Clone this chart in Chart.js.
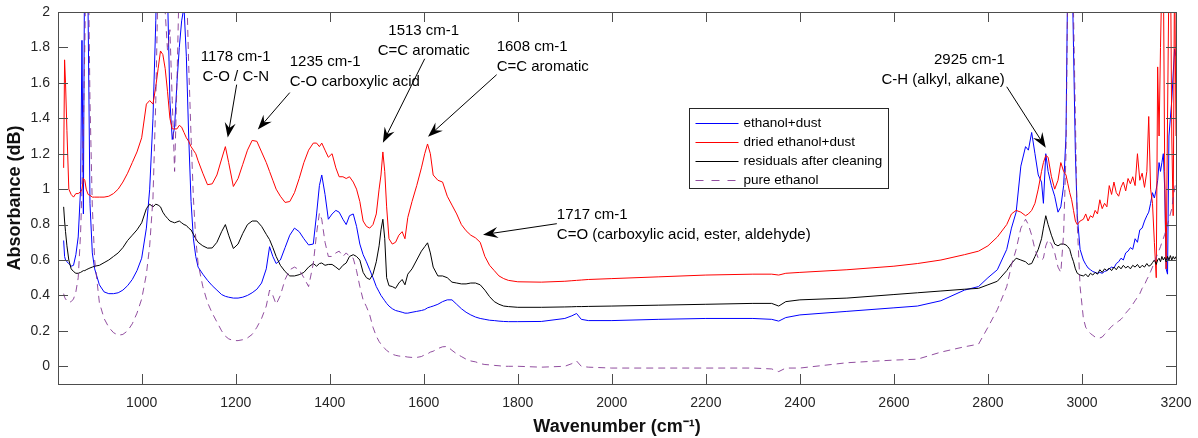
<!DOCTYPE html>
<html><head><meta charset="utf-8">
<script src="https://cdn.jsdelivr.net/npm/chart.js@4.4.0/dist/chart.umd.min.js"></script>
<style>html,body{margin:0;padding:0;background:#fff}#wrap{width:1198px;height:438px;position:relative}</style>
</head><body><div id="wrap"><canvas id="c" width="1198" height="438"></canvas></div>
<script>
const wavenumbers = [
 834,836,838,841,845,850,855,860,865,870,873,876,879,882,886,890,895,900,
 910,920,930,940,950,960,970,980,990,1000,1010,1017,1024,1030,
 1035,1040,1045,1050,1055,1060,1065,1070,1075,1080,1085,1090,1095,1100,1105,1110,1115,1120,
 1130,1140,1150,1160,1170,1178,1185,1195,1205,1215,1225,1235,1245,1255,1265,1272,1279,1286,1295,1305,1315,1325,1335,1345,1355,1365,
 1372,1378,1383,1390,1397,1405,1413,1420,1428,1435,1442,1450,1457,1464,1471,1478,1485,1492,1499,
 1505,1509,1513,1517,1521,1526,1533,1540,1547,1554,1560,1566,1575,1585,1595,1602,1608,1614,1620,
 1630,1640,1650,1660,1670,1680,1690,1700,1710,1720,1730,1740,1750,1760,1770,1780,1800,
 1850,1900,1915,1925,1935,1950,2000,2100,2200,2300,2340,2355,2370,2400,2500,2600,2650,2700,2750,2780,2800,
 2820,2840,2850,2860,2870,2880,2886,2893,2900,2907,2914,2918,2923,2928,2935,2942,2949,2955,2961,2966,2970,2974,2978,2982,2986,2990,2996,
 3003,3008,3013,3018,3023,3028,3033,3038,3043,3048,3053,3058,3063,3068,3073,3078,3083,3088,3093,3098,
 3103,3108,3113,3118,3123,3128,3133,3138,3142,3146,3150,3154,3158,3161,3164,3167,3170,3173,3176,3179,
 3182,3185,3188,3191,3194,3197,3200
];
const ethanolDust = [
 0.71,0.62,0.60,0.59,0.58,0.565,0.57,0.63,0.73,1.0,1.84,0.86,2.6,2.9,2.0,0.92,0.64,0.55,
 0.46,0.42,0.41,0.41,0.415,0.43,0.455,0.49,0.54,0.61,0.78,1.0,1.4,1.95,
 2.6,2.8,2.7,2.5,2.1,1.5,1.28,1.35,1.6,1.8,1.95,2.03,1.75,1.3,0.93,0.72,0.62,0.56,
 0.52,0.485,0.455,0.43,0.405,0.395,0.39,0.385,0.385,0.39,0.4,0.415,0.435,0.47,0.55,0.675,0.62,0.58,0.6,0.67,0.74,0.78,0.76,0.72,0.685,0.69,
 0.86,1.02,1.08,0.97,0.83,0.86,0.88,0.87,0.83,0.80,0.85,0.86,0.79,0.69,0.63,0.59,0.545,0.5,0.45,
 0.42,0.40,0.385,0.37,0.355,0.34,0.325,0.315,0.31,0.305,0.30,0.30,0.305,0.31,0.315,0.32,0.33,0.335,0.34,
 0.35,0.365,0.375,0.375,0.35,0.325,0.305,0.29,0.278,0.27,0.265,0.26,0.258,0.255,0.253,0.252,0.252,
 0.253,0.27,0.285,0.298,0.265,0.258,0.258,0.265,0.27,0.27,0.265,0.255,0.275,0.29,0.31,0.33,0.34,0.37,0.43,0.45,0.5,
 0.545,0.66,0.78,0.87,1.13,1.24,1.22,1.32,1.2,1.08,1.04,0.92,1.2,1.1,1.02,0.96,0.87,0.9,1.02,1.3,2.3,2.6,2.4,1.8,1.2,0.85,0.66,
 0.6,0.575,0.555,0.545,0.535,0.53,0.525,0.53,0.525,0.535,0.54,0.55,0.56,0.555,0.58,0.59,0.61,0.6,0.64,0.65,
 0.67,0.66,0.72,0.7,0.77,0.78,0.82,0.85,0.87,0.92,0.98,0.95,1.0,1.05,1.15,1.1,1.15,1.2,1.0,0.55,
 0.52,1.3,1.4,1.5,1.65,1.79,1.75
];
const driedEthanolDust = [
 1.12,1.73,1.6,1.33,1.0,0.97,0.955,0.975,0.975,0.985,1.0,1.06,1.05,1.0,0.97,0.965,0.955,0.955,
 0.955,0.955,0.96,0.975,1.0,1.04,1.09,1.15,1.21,1.29,1.48,1.5,1.48,1.58,
 1.68,1.78,1.76,1.68,1.55,1.4,1.34,1.34,1.34,1.36,1.35,1.32,1.29,1.27,1.24,1.22,1.2,1.16,
 1.09,1.025,1.03,1.08,1.17,1.24,1.15,1.015,1.06,1.14,1.22,1.275,1.27,1.21,1.15,1.1,1.05,1.0,0.96,0.925,0.93,0.98,1.06,1.15,1.22,1.26,
 1.26,1.24,1.26,1.22,1.18,1.2,1.12,1.07,1.07,1.06,1.07,1.04,1.0,0.93,0.82,0.79,0.78,0.8,0.86,
 1.0,1.08,1.21,1.1,0.9,0.72,0.69,0.7,0.74,0.76,0.72,0.84,0.93,1.02,1.12,1.2,1.255,1.2,1.08,
 1.05,1.04,0.96,0.91,0.86,0.8,0.765,0.74,0.725,0.7,0.62,0.57,0.54,0.51,0.495,0.485,0.477,
 0.475,0.48,0.483,0.485,0.487,0.49,0.495,0.505,0.515,0.52,0.52,0.515,0.525,0.53,0.545,0.565,0.58,0.6,0.63,0.65,0.68,
 0.73,0.8,0.86,0.88,0.87,0.85,0.86,0.88,0.92,1.0,1.1,1.15,1.19,1.18,1.07,1.0,1.05,1.15,1.1,1.08,1.03,0.98,0.94,0.88,0.82,0.8,0.82,
 0.83,0.86,0.82,0.85,0.84,0.88,0.86,0.94,0.89,0.92,0.9,1.02,0.97,1.04,0.98,0.96,1.01,1.04,0.99,1.06,
 1.03,1.07,1.02,1.2,1.05,1.09,1.01,1.1,1.41,1.0,0.92,0.7,0.5,1.69,1.3,1.8,2.2,2.3,1.1,0.55,
 1.4,2.2,2.4,1.3,0.85,2.3,1.3
];
const residualsAfterCleaning = [
 0.9,0.82,0.76,0.68,0.6,0.55,0.535,0.525,0.525,0.53,0.535,0.54,0.54,0.545,0.55,0.555,0.56,0.565,
 0.57,0.585,0.6,0.62,0.64,0.67,0.71,0.74,0.77,0.81,0.89,0.915,0.9,0.915,
 0.91,0.9,0.87,0.85,0.835,0.82,0.815,0.81,0.815,0.82,0.81,0.8,0.795,0.78,0.77,0.745,0.72,0.7,
 0.68,0.667,0.668,0.7,0.76,0.8,0.74,0.665,0.69,0.75,0.8,0.82,0.82,0.79,0.745,0.715,0.67,0.62,0.57,0.535,0.51,0.51,0.517,0.53,0.56,0.58,
 0.565,0.58,0.583,0.57,0.575,0.575,0.56,0.545,0.57,0.583,0.62,0.63,0.62,0.6,0.53,0.5,0.49,0.52,0.59,
 0.68,0.77,0.83,0.72,0.5,0.455,0.45,0.44,0.47,0.49,0.46,0.52,0.55,0.6,0.65,0.675,0.697,0.64,0.56,
 0.51,0.51,0.5,0.475,0.47,0.465,0.465,0.47,0.47,0.46,0.43,0.393,0.365,0.35,0.34,0.337,0.333,
 0.333,0.335,0.336,0.337,0.337,0.338,0.34,0.345,0.35,0.355,0.355,0.34,0.365,0.375,0.385,0.405,0.415,0.425,0.435,0.44,0.46,
 0.48,0.54,0.58,0.61,0.6,0.59,0.575,0.58,0.62,0.66,0.72,0.78,0.85,0.8,0.74,0.69,0.68,0.69,0.69,0.685,0.675,0.66,0.62,0.59,0.55,0.525,0.515,
 0.51,0.52,0.505,0.525,0.515,0.53,0.52,0.545,0.53,0.55,0.54,0.555,0.54,0.56,0.545,0.565,0.55,0.57,0.555,0.565,
 0.55,0.57,0.56,0.575,0.555,0.57,0.56,0.58,0.565,0.57,0.585,0.6,0.575,0.6,0.61,0.59,0.62,0.6,0.615,0.59,
 0.62,0.6,0.625,0.6,0.62,0.605,0.62
];
const pureEthanol = [
 0.41,0.39,0.38,0.37,0.36,0.365,0.38,0.42,0.5,0.75,1.0,1.35,1.8,2.4,2.4,1.5,0.9,0.6,
 0.36,0.27,0.22,0.19,0.175,0.18,0.2,0.24,0.3,0.38,0.52,0.68,0.95,1.5,
 2.2,2.5,2.4,2.0,1.78,1.9,1.5,1.1,1.6,2.2,2.5,2.5,2.2,1.7,1.3,0.95,0.72,0.58,
 0.45,0.36,0.3,0.25,0.2,0.17,0.155,0.145,0.145,0.15,0.16,0.18,0.22,0.27,0.34,0.43,0.4,0.35,0.4,0.49,0.545,0.56,0.545,0.5,0.45,0.58,
 0.75,0.865,0.83,0.7,0.62,0.62,0.64,0.65,0.62,0.64,0.62,0.61,0.54,0.45,0.375,0.337,0.29,0.22,0.17,
 0.14,0.125,0.113,0.1,0.09,0.08,0.068,0.062,0.058,0.056,0.055,0.052,0.05,0.05,0.055,0.065,0.07,0.08,0.085,
 0.1,0.11,0.112,0.09,0.07,0.055,0.04,0.03,0.025,0.015,0.01,0.008,0.005,0.003,0.0,0.0,0.0,
 -0.005,0.0,0.015,0.03,0.0,-0.005,-0.01,-0.01,-0.01,-0.01,-0.015,-0.03,-0.01,-0.01,0.02,0.035,0.04,0.08,0.11,0.125,0.22,
 0.32,0.45,0.57,0.66,0.78,0.83,0.8,0.74,0.66,0.61,0.6,0.61,0.68,0.714,0.69,0.64,0.56,0.53,0.75,1.2,2.2,2.6,2.5,2.0,1.4,0.8,0.45,
 0.27,0.22,0.2,0.185,0.175,0.165,0.16,0.16,0.165,0.18,0.195,0.21,0.225,0.235,0.245,0.255,0.265,0.28,0.3,0.315,
 0.33,0.35,0.37,0.39,0.41,0.44,0.46,0.49,0.51,0.535,0.56,0.59,0.615,0.635,0.655,0.675,0.7,0.72,0.745,0.77,
 0.8,0.83,0.86,0.89,0.95,1.0,1.05
];
const seriesNames = ['ethanol+dust', 'dried ethanol+dust', 'residuals after cleaning', 'pure ethanol'];
const xTickValues = [1000, 1200, 1400, 1600, 1800, 2000, 2200, 2400, 2600, 2800, 3000, 3200];
const yTickValues = [0, 0.2, 0.4, 0.6, 0.8, 1, 1.2, 1.4, 1.6, 1.8, 2];
const noteLines = [
  ['1178 cm-1', 'C-O / C-N'],
  ['1235 cm-1', 'C-O carboxylic acid'],
  ['1513 cm-1', 'C=C aromatic'],
  ['1608 cm-1', 'C=C aromatic'],
  ['1717 cm-1', 'C=O (carboxylic acid, ester, aldehyde)'],
  ['2925 cm-1', 'C-H (alkyl, alkane)']
];
const noteTextAt = [[1200, 1.748], [1315, 1.72], [1600, 1.894], [1755, 1.804], [1883, 0.856], [2836, 1.731]];
const noteArrowFrom = [[1202, 1.59], [1315, 1.545], [1602, 1.736], [1755, 1.646], [1883, 0.805], [2840, 1.578]];
const noteArrowTo = [[1183, 1.291], [1247, 1.336], [1513, 1.262], [1609, 1.296], [1726, 0.743], [2923, 1.234]];
const noteAlign = ['center', 'left', 'center', 'left', 'left', 'right'];

const FONT = "'Liberation Sans', Arial, sans-serif";
const colors = ['#0000ff', '#ff0000', '#000000', 'rgba(126,47,142,0.85)'];
const dashes = [[], [], [], [7, 5]];
const values = [ethanolDust, driedEthanolDust, residualsAfterCleaning, pureEthanol];
const drawOrder = [4, 3, 2, 1];

const datasets = values.map((arr, i) => ({
  label: seriesNames[i],
  data: wavenumbers.map((w, k) => ({x: w, y: arr[k]})),
  borderColor: colors[i],
  borderWidth: 1,
  borderDash: dashes[i],
  pointRadius: 0,
  tension: 0,
  fill: false,
  order: drawOrder[i]
}));

const framePlugin = {
  id: 'frame',
  afterDatasetsDraw(chart) {
    const {ctx, chartArea: a, scales: {x, y}} = chart;
    const tl = 10;
    ctx.save();
    ctx.strokeStyle = '#4d4d4d';
    ctx.lineWidth = 1;
    ctx.setLineDash([]);
    ctx.beginPath();
    for (const t of x.ticks) {
      const px = Math.round(x.getPixelForValue(t.value)) + 0.5;
      ctx.moveTo(px, a.bottom); ctx.lineTo(px, a.bottom - tl);
      ctx.moveTo(px, a.top); ctx.lineTo(px, a.top + tl);
    }
    for (const t of y.ticks) {
      const py = Math.round(y.getPixelForValue(t.value)) + 0.5;
      ctx.moveTo(a.left, py); ctx.lineTo(a.left + tl, py);
      ctx.moveTo(a.right, py); ctx.lineTo(a.right - tl, py);
    }
    ctx.stroke();
    ctx.strokeRect(Math.round(a.left) + 0.5, Math.round(a.top) + 0.5, Math.round(a.right - a.left), Math.round(a.bottom - a.top));

    // annotations
    ctx.fillStyle = '#000';
    ctx.strokeStyle = '#000';
    ctx.font = '15px ' + FONT;
    ctx.textBaseline = 'middle';
    const lineStep = 0.113;
    noteLines.forEach((lines, i) => {
      ctx.textAlign = noteAlign[i];
      lines.forEach((txt, j) => {
        ctx.fillText(txt, x.getPixelForValue(noteTextAt[i][0]), y.getPixelForValue(noteTextAt[i][1] - j * lineStep));
      });
      const x0 = x.getPixelForValue(noteArrowFrom[i][0]), y0 = y.getPixelForValue(noteArrowFrom[i][1]);
      const x1 = x.getPixelForValue(noteArrowTo[i][0]), y1 = y.getPixelForValue(noteArrowTo[i][1]);
      const dx = x1 - x0, dy = y1 - y0, len = Math.hypot(dx, dy);
      const ux = dx / len, uy = dy / len, nx = -uy, ny = ux;
      const L = 15, W = 5.5;
      ctx.beginPath();
      ctx.lineWidth = 1;
      ctx.moveTo(x0, y0);
      ctx.lineTo(x1 - ux * L * 0.6, y1 - uy * L * 0.6);
      ctx.stroke();
      ctx.beginPath();
      ctx.moveTo(x1, y1);
      ctx.lineTo(x1 - ux * L + nx * W, y1 - uy * L + ny * W);
      ctx.lineTo(x1 - ux * L * 0.65, y1 - uy * L * 0.65);
      ctx.lineTo(x1 - ux * L - nx * W, y1 - uy * L - ny * W);
      ctx.closePath();
      ctx.fill();
    });

    // legend
    const bx = Math.round(a.left + 0.5644 * (a.right - a.left)) + 0.5;
    const by = Math.round(a.top + 0.258 * (a.bottom - a.top)) + 0.5;
    const bw = 199, bh = 80;
    ctx.fillStyle = '#fff';
    ctx.fillRect(bx, by, bw, bh);
    ctx.strokeStyle = '#262626';
    ctx.lineWidth = 1;
    ctx.strokeRect(bx, by, bw, bh);
    ctx.font = '13.5px ' + FONT;
    ctx.textAlign = 'left';
    ctx.textBaseline = 'middle';
    seriesNames.forEach((name, i) => {
      const ry = Math.round(by + 14 + 19 * i) + 0.5;
      ctx.beginPath();
      ctx.strokeStyle = colors[i];
      ctx.setLineDash(i === 3 ? [8, 8] : []);
      ctx.moveTo(bx + 6, ry);
      ctx.lineTo(bx + 49, ry);
      ctx.stroke();
      ctx.setLineDash([]);
      ctx.fillStyle = '#000';
      ctx.fillText(name, bx + 54, ry);
    });
    ctx.restore();
  }
};

new Chart(document.getElementById('c'), {
  type: 'line',
  data: {datasets},
  options: {
    responsive: false,
    animation: false,
    devicePixelRatio: 1,
    layout: {padding: {left: 0, right: 22, top: 12, bottom: 0}},
    plugins: {legend: {display: false}, tooltip: {enabled: false}},
    scales: {
      x: {
        type: 'linear', min: 822, max: 3200,
        afterBuildTicks: s => { s.ticks = xTickValues.map(v => ({value: v})); },
        afterFit: s => { s.height = 54; s.paddingLeft = 0; s.paddingRight = 0; },
        grid: {display: false, drawTicks: false},
        border: {display: false},
        ticks: {padding: 11, color: '#262626', font: {family: FONT, size: 14}, maxRotation: 0, autoSkip: false, callback: v => String(v)},
        title: {display: true, text: 'Wavenumber (cm\u207B\u00B9)', color: '#111', font: {family: FONT, size: 18, weight: 'bold'}, padding: {top: 0, bottom: 0}}
      },
      y: {
        type: 'linear', min: -0.1, max: 2,
        afterBuildTicks: s => { s.ticks = yTickValues.map(v => ({value: v})); },
        afterFit: s => { s.width = 58; s.paddingTop = 0; s.paddingBottom = 0; },
        grid: {display: false, drawTicks: false},
        border: {display: false},
        ticks: {padding: 8, color: '#262626', font: {family: FONT, size: 14}, autoSkip: false, callback: v => String(Math.round(v * 10) / 10)},
        title: {display: true, text: 'Absorbance (dB)', color: '#111', font: {family: FONT, size: 18, weight: 'bold'}, padding: {top: 4, bottom: 0}}
      }
    }
  },
  plugins: [framePlugin]
});
</script>
</body></html>
